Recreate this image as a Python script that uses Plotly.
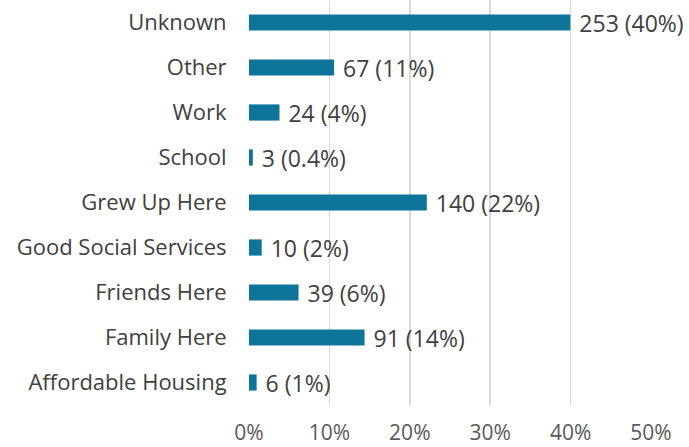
import plotly.graph_objects as go

categories = ["Affordable Housing", "Family Here", "Friends Here", "Good Social Services",
              "Grew Up Here", "School", "Work", "Other", "Unknown"]
counts = [6, 91, 39, 10, 140, 3, 24, 67, 253]
pct_labels = ["1%", "14%", "6%", "2%", "22%", "0.4%", "4%", "11%", "40%"]
tick_vals = [0, 0.1, 0.2, 0.3, 0.4, 0.5]
tick_text = ["0%", "10%", "20%", "30%", "40%", "50%"]

total = sum(counts)
shares = [c / total for c in counts]
labels = [f" {c} ({p})" for c, p in zip(counts, pct_labels)]

font_fam = "Open Sans, Liberation Sans, sans-serif"
fs = 22
fig = go.Figure(go.Bar(
    y=categories, x=shares, orientation="h",
    marker=dict(color="#0E7499", line=dict(width=0)),
    text=labels, textposition="outside", cliponaxis=False, constraintext="none",
    textfont=dict(size=23, color="#404040", family=font_fam),
    hoverinfo="skip",
))
fig.update_layout(
    width=689, height=447,
    margin=dict(l=249, r=38, t=0, b=42, autoexpand=False),
    plot_bgcolor="white", paper_bgcolor="white",
    bargap=0.64, showlegend=False,
    font=dict(family=font_fam, size=fs, color="#404040"),
)
fig.update_xaxes(range=[0, 0.5], tickvals=tick_vals, ticktext=tick_text, automargin=False,
                 showgrid=True, gridcolor="#D9D9D9", gridwidth=1.5, zeroline=False,
                 ticks="outside", ticklen=9, tickcolor="rgba(0,0,0,0)",
                 tickfont=dict(size=21, color="#595959"), showline=False)
fig.update_yaxes(showgrid=False, ticks="outside", ticklen=17, tickcolor="rgba(0,0,0,0)",
                 automargin=False,
                 tickfont=dict(size=fs, color="#404040"), showline=False)
fig.write_html("out.html", config={"displayModeBar": False, "staticPlot": True},
               post_script="document.body.style.margin='0';document.body.style.overflow='hidden';")
